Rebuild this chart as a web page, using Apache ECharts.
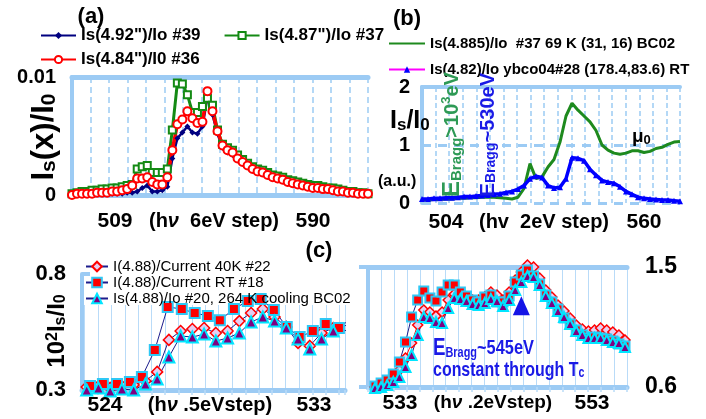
<!DOCTYPE html>
<html>
<head>
<meta charset="utf-8">
<script src="https://cdn.jsdelivr.net/npm/echarts@6/dist/echarts.min.js"></script>
<style>
  html, body { margin: 0; padding: 0; background: #fff; }
  #chart { width: 706px; height: 419px; }
</style>
</head>
<body>
<div id="chart"></div>
<script>
// ---- (a) Is(x)/I0 vs hv, 509..590 eV ----
const aNames = ['Is(4.92")/Io #39', 'Is(4.87")/Io #37', 'Is(4.84")/I0 #36'];
const aTicks = ['509', '590'];
const aBlue = [0.0000,0.0000,0.0000,0.0000,0.0001,0.0001,0.0001,0.0001,0.0001,0.0001,
  0.0001,0.0002,0.0002,0.0003,0.0006,0.0008,0.0003,0.0003,0.0004,0.0007,
  0.0031,0.0048,0.0053,0.0058,0.0053,0.0052,0.0058,0.0083,0.0068,0.0052,
  0.0040,0.0036,0.0034,0.0030,0.0027,0.0024,0.0021,0.0019,0.0018,0.0016,
  0.0014,0.0013,0.0012,0.0010,0.0009,0.0008,0.0007,0.0006,0.0005,0.0005,
  0.0004,0.0004,0.0003,0.0002,0.0002,0.0001,0.0001,0.0001,0.0000,0.0000];
const aGreen = [0.0001,0.0002,0.0003,0.0003,0.0004,0.0004,0.0005,0.0005,0.0006,0.0006,
  0.0007,0.0008,0.0009,0.0022,0.0024,0.0025,0.0019,0.0019,0.0019,0.0022,
  0.0055,0.0095,0.0094,0.0085,0.0070,0.0070,0.0075,0.0082,0.0076,0.0055,
  0.0043,0.0040,0.0038,0.0034,0.0030,0.0027,0.0024,0.0022,0.0021,0.0019,
  0.0017,0.0016,0.0015,0.0013,0.0012,0.0011,0.0010,0.0009,0.0008,0.0008,
  0.0007,0.0006,0.0006,0.0005,0.0004,0.0003,0.0003,0.0002,0.0002,0.0001];
const aRed = [0.0000,0.0001,0.0001,0.0001,0.0001,0.0002,0.0002,0.0002,0.0003,0.0003,
  0.0004,0.0005,0.0008,0.0014,0.0014,0.0015,0.0011,0.0009,0.0009,0.0015,
  0.0038,0.0060,0.0064,0.0071,0.0065,0.0061,0.0062,0.0088,0.0071,0.0054,
  0.0042,0.0038,0.0036,0.0031,0.0028,0.0025,0.0022,0.0020,0.0019,0.0017,
  0.0015,0.0014,0.0013,0.0011,0.0010,0.0009,0.0008,0.0007,0.0006,0.0006,
  0.0005,0.0005,0.0004,0.0003,0.0003,0.0002,0.0002,0.0001,0.0001,0.0001];

// ---- (b) Is/I0 (a.u.), 504..560 eV ----
const bNames = ['Is(4.885)/Io  #37 69 K (31, 16) BC02', 'Is(4.82)/Io ybco04#28 (178.4,83.6) RT'];
const bTicks = ['504', '560'];
const bGreen = [0.05,0.05,0.06,0.06,0.07,0.07,0.08,0.08,0.09,0.09,0.10,0.10,0.10,0.09,0.08,0.07,
  0.10,0.25,0.68,0.42,0.45,0.62,0.75,1.05,1.50,1.72,1.60,1.50,1.40,1.25,1.00,0.91,
  0.86,0.84,0.86,0.90,0.90,0.87,0.89,0.94,0.96,1.01,1.05,1.06];
const bBlue = [0.07,0.07,0.08,0.08,0.09,0.09,0.10,0.11,0.11,0.12,0.13,0.14,0.15,0.16,0.18,0.20,
  0.24,0.30,0.42,0.46,0.44,0.30,0.26,0.27,0.42,0.78,0.77,0.73,0.58,0.48,0.39,0.36,
  0.34,0.28,0.20,0.15,0.10,0.08,0.07,0.06,0.05,0.05,0.04,0.03];

// ---- (c) left: 10^2 Is/I0, 0.5 eV step ----
const cNames = ['I(4.88)/Current 40K #22', 'I(4.88)/Current RT #18', 'Is(4.88)/Io #20, 264 K cooling BC02'];
const clTicks = ['524', '533'];
const clDiaX = [523,523.5,524,524.5,525,525.5,526,526.5,527,527.5,528,528.5,529,529.5,530,530.5,531,531.5,532,532.5,533,533.5,534.5];
const clDia = [0.313,0.317,0.309,0.317,0.322,0.339,0.378,0.516,0.554,0.563,0.567,0.546,0.554,0.597,0.632,0.649,0.615,0.572,0.503,0.490,0.546,0.567,0.610];
const clTri = [0.300,0.309,0.296,0.304,0.300,0.326,0.347,0.442,0.533,0.528,0.541,0.511,0.524,0.546,0.593,0.615,0.597,0.567,0.520,0.477,0.520,0.554,0.559];
const clSqX = [523.14,523.69,524.29,524.84,525.35,525.90,526.45,527.05,527.60,528.16,528.67,529.27,529.86,530.41,530.97,531.52,532.07,532.63,533.18,533.74,534.6];
const clSq = [0.317,0.326,0.326,0.334,0.356,0.472,0.658,0.649,0.632,0.619,0.601,0.649,0.684,0.692,0.645,0.572,0.528,0.554,0.584,0.567,0.600];

// ---- (c) right: 0.2 eV step ----
const crTicks = ['533', '553'];
const crDia = [0.600,0.615,0.630,0.667,0.727,0.817,0.930,1.065,1.177,1.162,1.132,1.162,1.252,1.297,1.282,1.267,1.252,1.252,1.275,1.312,1.290,
  1.252,1.312,1.402,1.462,1.515,1.500,1.417,1.327,1.275,1.215,1.170,1.117,1.065,1.035,1.020,1.027,1.042,1.027,1.012,0.990,0.952];
const crSq = [0.607,0.630,0.652,0.697,0.787,0.937,1.125,1.252,1.320,1.267,1.245,1.312,1.365,1.365,1.312,1.282,1.252,1.237,1.275,1.290,1.237,
  1.237,1.282,1.387,1.440,1.477,1.432,1.372,1.290,1.237,1.185,1.117,1.072,1.027,0.990,0.967,0.975,0.967,0.960,0.945,0.922,0.907];
const crTri = [0.592,0.600,0.615,0.637,0.675,0.750,0.840,0.990,1.125,1.117,1.087,1.080,1.192,1.267,1.260,1.245,1.222,1.215,1.230,1.260,1.245,
  1.207,1.252,1.327,1.387,1.432,1.425,1.365,1.282,1.230,1.170,1.125,1.072,1.020,0.990,0.967,0.967,0.967,0.952,0.937,0.930,0.900];

const aCats = aRed.map((v, i) => i);
const bCats = bBlue.map((v, i) => i);
const crCats = crSq.map((v, i) => i);

const FONT = "'Liberation Sans', Arial, sans-serif";
const LB = '#9ccbf4';      // light blue frame
const LBG = '#b9dbf8';     // grid lines in (c)

// pair x/y lists, last point sits past the axis end without a marker
function pairs(xs, ys) {
  return xs.map((x, i) => i === xs.length - 1 ? { value: [x, ys[i]], symbol: 'none' } : [x, ys[i]]);
}

function R(size, o) {
  return Object.assign({ fontSize: size, fontWeight: 'bold', fontFamily: FONT, fill: '#000', lineHeight: size }, o || {});
}
function sub(size, o) { return R(size, Object.assign({ verticalAlign: 'bottom' }, o || {})); }
function sup(size, o) { return R(size, Object.assign({ verticalAlign: 'top' }, o || {})); }

function txt(x, y, text, rich, extra, align) {
  const al = align || 'center';
  return Object.assign({
    type: 'text', x: x, y: y, silent: true, z: 100,
    style: { text: text, rich: rich, align: al, textAlign: al, verticalAlign: 'middle', textVerticalAlign: 'middle' }
  }, extra || {});
}

const big = { m: R(21) };
const mid = { n: R(20), i: R(20, { fontStyle: 'italic' }) };

const hidden = { show: false };

const option = {
  animation: false,
  backgroundColor: '#fff',
  textStyle: { fontFamily: FONT },
  grid: [
    { left: 72, top: 77, width: 296, height: 118, outerBoundsMode: 'none' },
    { left: 422, top: 87, width: 258, height: 116, outerBoundsMode: 'none' },
    { left: 82, top: 274, width: 263, height: 116, outerBoundsMode: 'none' },
    { left: 84.6, top: 305, width: 260.4, height: 85, outerBoundsMode: 'none' },
    { left: 375, top: 267, width: 250, height: 120, outerBoundsMode: 'none' },
    { left: 368, top: 267, width: 259, height: 120, outerBoundsMode: 'none' }
  ],
  xAxis: [
    { gridIndex: 0, type: 'category', data: aCats, boundaryGap: false, position: 'top',
      axisLine: { onZero: false, lineStyle: { color: LB, width: 5 } }, axisTick: hidden, axisLabel: hidden, splitLine: hidden },
    { gridIndex: 0, type: 'value', min: 0, max: 16, interval: 1, position: 'bottom',
      axisLine: { onZero: false, lineStyle: { color: LB, width: 5 } }, axisTick: hidden, axisLabel: hidden,
      splitLine: { show: true, lineStyle: { color: LB, width: 1.5, type: [6, 4] } } },
    { gridIndex: 1, type: 'category', data: bCats, boundaryGap: false, show: false },
    { gridIndex: 1, type: 'value', min: 0, max: 19, interval: 1,
      axisLine: { onZero: false, lineStyle: { color: LB, width: 4 } }, axisTick: hidden, axisLabel: hidden,
      splitLine: { show: true, lineStyle: { color: LB, width: 1.5, type: [5, 3] } } },
    { gridIndex: 2, type: 'value', min: 522.8, max: 534.0,
      axisLine: { onZero: false, lineStyle: { color: LB, width: 5 } }, axisTick: hidden, axisLabel: hidden, splitLine: hidden },
    { gridIndex: 3, type: 'value', min: 0, max: 19.43, interval: 1,
      axisLine: { show: false, onZero: false }, axisLabel: hidden,
      axisTick: { show: true, length: 5, lineStyle: { color: LBG, width: 1.5 } },
      splitLine: { show: true, lineStyle: { color: LBG, width: 1 } } },
    { gridIndex: 4, type: 'category', data: crCats, boundaryGap: false, show: false },
    { gridIndex: 5, type: 'value', min: 0, max: 20, interval: 1, position: 'bottom',
      axisLine: { onZero: false, lineStyle: { color: LB, width: 5 } }, axisLabel: hidden,
      axisTick: { show: true, length: 5, lineStyle: { color: LBG, width: 1.5 } },
      splitLine: { show: true, lineStyle: { color: LBG, width: 1 } } },
    { gridIndex: 5, type: 'value', min: 0, max: 20, interval: 1, position: 'top',
      axisLine: { onZero: false, lineStyle: { color: LB, width: 5 } }, axisTick: hidden, axisLabel: hidden, splitLine: hidden }
  ],
  yAxis: [
    { gridIndex: 0, type: 'value', min: 0, max: 0.01, interval: 0.01,
      axisLine: { show: true, onZero: false, lineStyle: { color: LB, width: 4 } }, axisTick: hidden, splitLine: hidden,
      axisLabel: { fontSize: 20, fontWeight: 'bold', color: '#000', margin: 16, fontFamily: FONT } },
    { gridIndex: 1, type: 'value', min: 0, max: 2, interval: 1,
      axisLine: { show: true, onZero: false, lineStyle: { color: LB, width: 4 } }, axisTick: hidden,
      splitLine: { show: true, lineStyle: { color: LB, width: 3, type: [9, 7] } },
      axisLabel: { fontSize: 20, fontWeight: 'bold', color: '#000', margin: 12, fontFamily: FONT } },
    { gridIndex: 2, type: 'value', min: 0.3, max: 0.8, interval: 0.5,
      axisLine: { show: true, onZero: false, lineStyle: { color: LB, width: 4 } },
      axisTick: { show: true, inside: true, length: 8, lineStyle: { color: LB, width: 4 } }, splitLine: hidden,
      axisLabel: { fontSize: 22, fontWeight: 'bold', color: '#000', margin: 16, fontFamily: FONT } },
    { gridIndex: 3, type: 'value', min: 0, max: 1, show: false },
    { gridIndex: 4, type: 'value', min: 0.6, max: 1.5, show: false },
    { gridIndex: 5, type: 'value', min: 0.6, max: 1.5, interval: 0.9, position: 'left',
      axisLine: { show: true, onZero: false, lineStyle: { color: LB, width: 4 } },
      axisTick: { show: true, length: 9, lineStyle: { color: LB, width: 4 } }, axisLabel: hidden, splitLine: hidden },
    { gridIndex: 5, type: 'value', min: 0.6, max: 1.5, interval: 0.9, position: 'right',
      axisLine: { show: false, onZero: false }, axisTick: hidden, splitLine: hidden,
      axisLabel: { fontSize: 23, fontWeight: 'bold', color: '#000', margin: 18, fontFamily: FONT,
        formatter: v => v.toFixed(1) } }
  ],
  legend: [
    { left: 40, top: 27, padding: 0, itemGap: 23, itemWidth: 35, itemHeight: 9, selectedMode: false,
      textStyle: { fontSize: 17, fontWeight: 'bold', color: '#000', fontFamily: FONT },
      data: [aNames[0], aNames[1]] },
    { left: 40, top: 51, padding: 0, itemWidth: 35, itemHeight: 9, selectedMode: false,
      textStyle: { fontSize: 17, fontWeight: 'bold', color: '#000', fontFamily: FONT },
      data: [aNames[2]] },
    { left: 388, top: 36, padding: 0, orient: 'vertical', itemGap: 11, itemWidth: 36, itemHeight: 8, selectedMode: false,
      textStyle: { fontSize: 15, fontWeight: 'bold', color: '#000', fontFamily: FONT },
      data: [{ name: bNames[0], itemStyle: { opacity: 0 } },
             { name: bNames[1], lineStyle: { color: '#ff00ff', width: 2 } }] },
    { left: 85, top: 259, padding: 0, orient: 'vertical', itemGap: 1, itemWidth: 22, itemHeight: 12, selectedMode: false,
      textStyle: { fontSize: 15, color: '#000', fontFamily: FONT },
      data: cNames }
  ],
  series: [
    // (a)
    { name: aNames[0], type: 'line', xAxisIndex: 0, yAxisIndex: 0, data: aBlue, showAllSymbol: true,
      symbol: 'diamond', symbolSize: 6, itemStyle: { color: '#000080' }, lineStyle: { color: '#000080', width: 2.5 } },
    { name: aNames[1], type: 'line', xAxisIndex: 0, yAxisIndex: 0, data: aGreen, showAllSymbol: true,
      symbol: 'emptyRect', symbolSize: 7, itemStyle: { color: '#148a14', borderWidth: 1.5 }, lineStyle: { color: '#148a14', width: 3 } },
    { name: aNames[2], type: 'line', xAxisIndex: 0, yAxisIndex: 0, data: aRed, showAllSymbol: true,
      symbol: 'emptyCircle', symbolSize: 8, itemStyle: { color: '#ff0000', borderWidth: 2.5 }, lineStyle: { color: '#ff0000', width: 3.5 } },
    // (b)
    { name: bNames[0], type: 'line', xAxisIndex: 2, yAxisIndex: 1, data: bGreen,
      symbol: 'none', lineStyle: { color: '#1e8a1e', width: 3 }, itemStyle: { color: '#1e8a1e' } },
    { name: bNames[1], type: 'line', xAxisIndex: 2, yAxisIndex: 1, data: bBlue, showAllSymbol: true,
      symbol: 'triangle', symbolSize: 6, itemStyle: { color: '#0000ff' }, lineStyle: { color: '#0000ff', width: 3.5 } },
    // (c) left
    { name: cNames[0], type: 'line', xAxisIndex: 4, yAxisIndex: 2, data: pairs(clDiaX, clDia), clip: false,
      symbol: 'diamond', symbolSize: 11, itemStyle: { color: '#e6cdf0', borderColor: '#ff0000', borderWidth: 1.5 },
      lineStyle: { color: '#1c1c8c', width: 1 } },
    { name: cNames[1], type: 'line', xAxisIndex: 4, yAxisIndex: 2, data: pairs(clSqX, clSq), clip: false,
      symbol: 'rect', symbolSize: 10, itemStyle: { color: '#ff0000', borderColor: '#2ec8f5', borderWidth: 2 },
      lineStyle: { color: '#1c1c8c', width: 1 } },
    { name: cNames[2], type: 'line', xAxisIndex: 4, yAxisIndex: 2, data: pairs(clDiaX, clTri), clip: false,
      symbol: 'triangle', symbolSize: 11, itemStyle: { color: '#800080', borderColor: '#00e5ff', borderWidth: 2 },
      lineStyle: { color: '#1c1c8c', width: 1 } },
    // (c) right
    { name: cNames[0], type: 'line', xAxisIndex: 6, yAxisIndex: 4, data: crDia, clip: false, showAllSymbol: true,
      symbol: 'diamond', symbolSize: 10, itemStyle: { color: '#e6cdf0', borderColor: '#ff0000', borderWidth: 1.5 },
      lineStyle: { color: '#ff0000', width: 1 } },
    { name: cNames[1], type: 'line', xAxisIndex: 6, yAxisIndex: 4, data: crSq, clip: false, showAllSymbol: true,
      symbol: 'rect', symbolSize: 9, itemStyle: { color: '#ff0000', borderColor: '#2ec8f5', borderWidth: 2 },
      lineStyle: { color: '#1c1c8c', width: 1 } },
    { name: cNames[2], type: 'line', xAxisIndex: 6, yAxisIndex: 4, data: crTri, clip: false, showAllSymbol: true,
      symbol: 'triangle', symbolSize: 10, itemStyle: { color: '#800080', borderColor: '#00e5ff', borderWidth: 2 },
      lineStyle: { color: '#1c1c8c', width: 1 },
      markPoint: { silent: true, label: { show: false },
        data: [{ coord: [24.4, 1.21], symbol: 'triangle', symbolSize: [17, 19], itemStyle: { color: '#1414e6', borderWidth: 0 } }] } }
  ],
  graphic: [
    // panel titles
    txt(91, 17, '{m|(a)}', { m: R(22) }),
    txt(407, 19, '{m|(b)}', { m: R(22) }),
    txt(319, 251, '{m|(c)}', { m: R(22) }),
    // x axis texts
    txt(115, 221, '{m|' + aTicks[0] + '}', big),
    txt(214, 221, '{n|(h}{i|ν}{n|  6eV step)}', mid),
    txt(313, 221, '{m|' + aTicks[1] + '}', big),
    txt(446, 222, '{m|' + bTicks[0] + '}', big),
    txt(544, 222, '{n|(hv  2eV step)}', mid),
    txt(644, 222, '{m|' + bTicks[1] + '}', big),
    txt(105, 405, '{m|' + clTicks[0] + '}', big),
    txt(210, 405, '{n|(h}{i|ν}{n| .5eVstep)}', mid),
    txt(314, 405, '{m|' + clTicks[1] + '}', big),
    txt(400, 403, '{m|' + crTicks[0] + '}', big),
    txt(493, 403, '{n|(h}{i|ν}{n| .2eVstep)}', { n: R(19), i: R(19, { fontStyle: 'italic' }) }),
    txt(592, 403, '{m|' + crTicks[1] + '}', big),
    // y axis names
    txt(44, 137, '{m|I}{s|s}{m|(x)/I}{s|0}', { m: R(31), s: sub(21) }, { rotation: Math.PI / 2 }),
    txt(390, 121, '{m|I}{s|s}{m|/I}{s|0}', { m: R(25), s: sub(17) }, null, 'left'),
    txt(378, 182, '{m|(a.u.)}', { m: R(16) }, null, 'left'),
    txt(57, 331, '{m|10}{p|2}{m|I}{s|s}{m|/I}{s|0}', { m: R(24), p: sup(16), s: sub(16) }, { rotation: Math.PI / 2 }),
    // annotations (b)
    txt(452, 197, '{e|E}{s|Bragg}{m|>10}{p|3}{m|eV}',
      { e: R(24, { fill: '#2e9a55' }), s: sub(15, { fill: '#2e9a55' }), m: R(20, { fill: '#2e9a55' }), p: sup(13, { fill: '#2e9a55' }) },
      { rotation: Math.PI / 2 }, 'left'),
    txt(488, 197, '{e|E}{s|Bragg}{m|~530eV}',
      { e: R(21, { fill: '#1a1ae6' }), s: sub(14, { fill: '#1a1ae6' }), m: R(20, { fill: '#1a1ae6' }) },
      { rotation: Math.PI / 2 }, 'left'),
    txt(632, 137, '{m|μ}{s|0}', { m: R(19), s: sub(13) }, null, 'left'),
    // annotation (c)
    txt(433, 348, '{e|E}{s|Bragg}{m|~545eV}',
      { e: R(24, { fill: '#1a1ae6' }), s: sub(14, { fill: '#1a1ae6' }), m: R(21, { fill: '#1a1ae6' }) },
      { scaleX: 0.78 }, 'left'),
    txt(433, 370, '{m|constant through T}{s|c}',
      { m: R(21, { fill: '#1a1ae6' }), s: sub(14, { fill: '#1a1ae6' }) },
      { scaleX: 0.76 }, 'left')
  ]
};

const chart = echarts.init(document.getElementById('chart'), null, { renderer: 'canvas' });
chart.setOption(option);
</script>
</body>
</html>
